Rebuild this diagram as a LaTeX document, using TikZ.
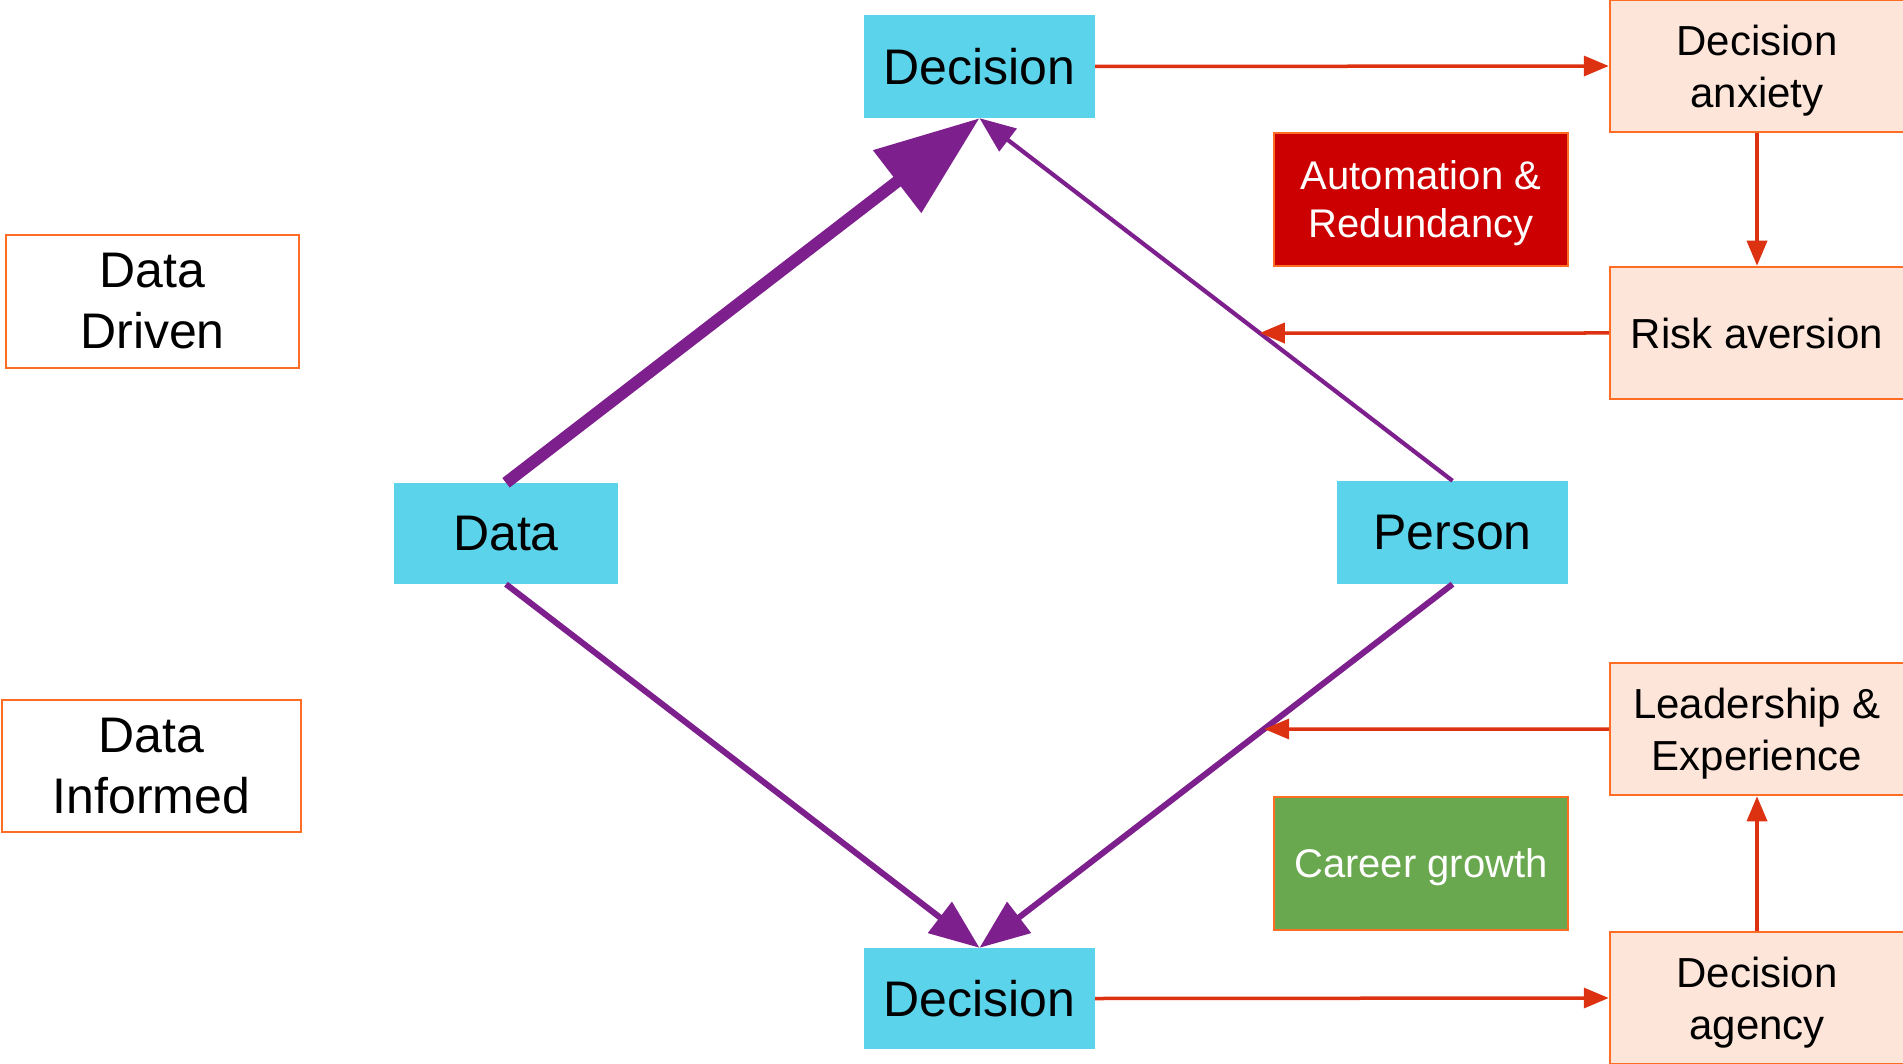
\documentclass[tikz,border=0pt]{standalone}
\usepackage{fontspec}
\setmainfont{Liberation Sans}
\usetikzlibrary{arrows.meta}
\definecolor{cyanbox}{HTML}{5BD3EA}
\definecolor{purp}{HTML}{7E1F8E}
\definecolor{redarr}{HTML}{DD3212}
\definecolor{orangeb}{HTML}{FF6D24}
\definecolor{peach}{HTML}{FEE5DA}
\definecolor{redbox}{HTML}{CC0000}
\definecolor{greenbox}{HTML}{6AA84F}
\tikzset{
  bluebox/.style={fill=cyanbox, inner sep=0pt, minimum width=231pt, minimum height=103pt, font=\fontsize{50}{60}\selectfont},
  labelbox/.style={draw=orangeb, line width=2.5pt, fill=white, inner sep=0pt, align=center, font=\fontsize{50}{61}\selectfont},
  peachbox/.style={draw=orangeb, line width=2.5pt, fill=peach, inner sep=0pt, minimum width=294pt, minimum height=132pt, align=center, text depth=0pt, font=\fontsize{42}{52}\selectfont},
  colbox/.style={draw=orangeb, line width=2pt, inner sep=0pt, minimum width=294pt, minimum height=133pt, align=center, text depth=0pt, text=white, font=\fontsize{40}{48}\selectfont},
  bigarrow/.style={draw=purp, line width=12pt, -{Triangle[length=104pt,width=76pt]}},
  midarrow/.style={draw=purp, line width=6pt, -{Triangle[length=50pt,width=38pt]}},
  thinarrow/.style={draw=purp, line width=4.2pt, -{Triangle[length=36pt,width=28pt]}},
  redarrow/.style={draw=redarr, line width=3.5pt, -{Triangle[length=25pt,width=20pt]}}
}
\begin{document}
\begin{tikzpicture}[x=1pt,y=-1pt]
\useasboundingbox (0,0) rectangle (1903,1064);
\fill[white] (0,0) rectangle (1903,1064);

% main boxes
\node[bluebox] (dtop) at (979.5,66.5) {Decision};
\node[bluebox, minimum height=101pt] (dbot) at (979.5,998.5) {Decision};
\node[bluebox, minimum width=224pt, minimum height=101pt] (data) at (506,533.5) {Data};
\node[bluebox] (person) at (1452.5,532.5) {Person};

% left labels
\node[labelbox, minimum width=293pt, minimum height=133pt] (driven) at (152.5,301.5) {Data\\Driven};
\node[labelbox, minimum width=299pt, minimum height=132pt] (informed) at (151.5,766) {Data\\Informed};

% right boxes
\node[peachbox] (anxiety) at (1757,66) {Decision\\anxiety};
\node[peachbox] (risk) at (1757,333) {Risk aversion};
\node[peachbox] (lead) at (1757,729) {Leadership \&\\Experience};
\node[peachbox] (agency) at (1757,998) {Decision\\agency};

\node[colbox, fill=redbox] (auto) at (1421,199.5) {Automation \&\\Redundancy};
\node[colbox, fill=greenbox] (career) at (1421,863.5) {Career growth};

% purple connectors
\draw[bigarrow] (data.north) -- (dtop.south);
\draw[thinarrow] (person.north) -- (dtop.south);
\draw[midarrow] (data.south) -- (dbot.north);
\draw[midarrow] (person.south) -- (dbot.north);

% free ends on the purple lines
\coordinate (rend) at (intersection of person.north--dtop.south and risk.west--risk.east);
\coordinate (lend) at (intersection of person.south--dbot.north and lead.west--lead.east);

% red connectors
\draw[redarrow] (dtop.east) -- (anxiety.west);
\draw[redarrow] (anxiety.south) -- (risk.north);
\draw[redarrow] (risk.west) -- (rend);
\draw[redarrow] (lead.west) -- (lend);
\draw[redarrow] (agency.north) -- (lead.south);
\draw[redarrow] (dbot.east) -- (agency.west);
\end{tikzpicture}
\end{document}
